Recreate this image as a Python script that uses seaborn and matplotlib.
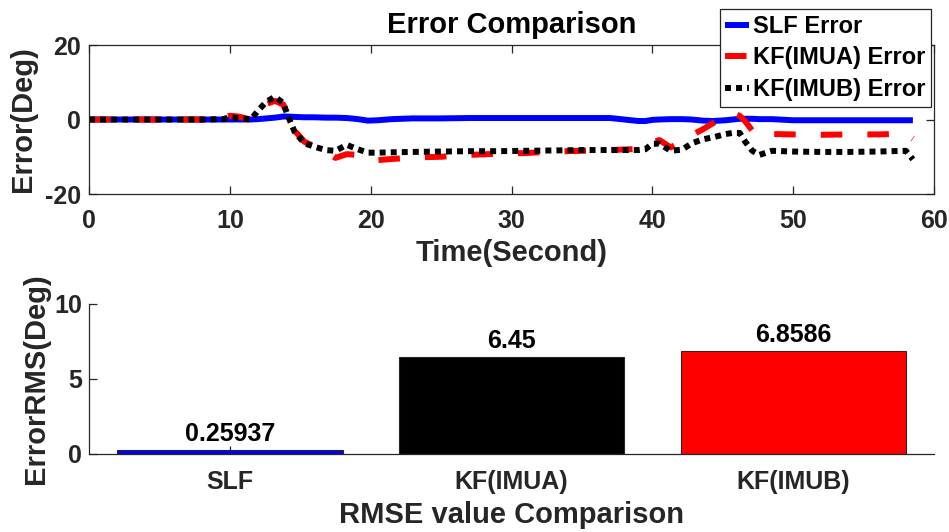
import numpy as np
import pandas as pd
import matplotlib
matplotlib.use("Agg")
import matplotlib.pyplot as plt
import seaborn as sns

# ---------------- data ----------------
time_s = [0, 2, 4, 6, 8, 9.5, 10, 10.6, 11.5, 12, 12.6, 13.2, 13.8, 14.1, 14.6,
          15.3, 16.0, 16.8, 17.5, 18.3, 19.1, 19.8, 20.5, 21.5, 23, 25, 27, 29,
          31, 33, 35, 37, 39, 39.5, 40, 40.5, 41.3, 42.1, 42.8, 43.6, 44.3, 45.2,
          45.7, 46.2, 46.6, 47.1, 47.6, 48.5, 50, 52, 54, 56, 58, 58.5]

slf_error = [0, 0, 0, 0, 0, 0, 0, 0, 0, 0.1, 0.3, 0.5, 0.8, 0.8, 0.7,
             0.6, 0.6, 0.5, 0.5, 0.4, 0.1, -0.3, -0.2, 0.1, 0.3, 0.3, 0.4, 0.4,
             0.4, 0.4, 0.4, 0.4, -0.4, -0.4, -0.1, 0.0, 0.1, 0.1, 0.0, -0.3, -0.4, -0.2,
             0.0, 0.2, 0.2, 0.2, 0.1, 0.1, -0.2, -0.2, -0.2, -0.2, -0.2, -0.2]

kf_imua_error = [0, 0, 0, 0, 0, 0.2, 1.0, 0.8, 0.0, 1.5, 4.2, 5.0, 4.0, 1.0, -3.0,
                 -6.0, -7.2, -8.5, -10.3, -9.3, -9.5, -10.6, -10.9, -10.6, -10.2, -10.0, -9.5, -9.2,
                 -9.0, -8.6, -8.4, -8.2, -7.9, -7.5, -6.2, -5.5, -7.5, -5.8, -4.2, -2.6, -1.0, 1.0,
                 1.7, 1.0, -0.5, -3.0, -4.6, -3.9, -4.0, -4.1, -4.0, -4.0, -3.8, -5.2]

kf_imub_error = [0, 0, 0, 0, 0, 0.1, 0.6, 0.4, 0.0, 2.4, 4.8, 6.1, 4.4, 1.2, -3.3,
                 -6.4, -7.3, -8.2, -8.4, -6.8, -8.0, -8.9, -8.9, -8.8, -8.7, -8.6, -8.5, -8.5,
                 -8.4, -8.3, -8.2, -8.2, -8.2, -8.0, -6.5, -6.5, -8.4, -8.1, -6.4, -5.3, -4.8, -3.9,
                 -3.6, -3.6, -6.0, -8.4, -9.5, -8.4, -8.6, -8.7, -8.7, -8.6, -8.4, -10.7]

series_names = ["SLF Error", "KF(IMUA) Error", "KF(IMUB) Error"]

rmse_methods = ["SLF", "KF(IMUA)", "KF(IMUB)"]
rmse_values = [0.25937, 6.45, 6.8586]
rmse_labels = ["0.25937", "6.45", "6.8586"]

x_ticks_top = [0, 10, 20, 30, 40, 50, 60]
y_ticks_top = [-20, 0, 20]
y_ticks_bottom = [0, 5, 10]

# ---------------- style ----------------
sns.set_theme(style="white")
plt.rcParams['font.family'] = ['Liberation Sans', 'DejaVu Sans']
plt.rcParams['font.weight'] = 'bold'
plt.rcParams['axes.labelweight'] = 'bold'
plt.rcParams['axes.titleweight'] = 'bold'
plt.rcParams['axes.unicode_minus'] = False

GRAY = '#262626'

fig = plt.figure(figsize=(9.49, 5.32), dpi=100)
ax1 = fig.add_axes([0.0938, 0.6353, 0.8904, 0.2801])
ax2 = fig.add_axes([0.0938, 0.1472, 0.8904, 0.2814])

# ---------------- top: error time series ----------------
df = pd.DataFrame({
    "Time": time_s * 3,
    "Error": slf_error + kf_imua_error + kf_imub_error,
    "Series": [series_names[0]] * len(time_s) + [series_names[1]] * len(time_s)
              + [series_names[2]] * len(time_s),
})
palette = {series_names[0]: "#0000ff", series_names[1]: "#ff0000", series_names[2]: "#000000"}
dashes = {series_names[0]: "", series_names[1]: (3.6, 4.2), series_names[2]: (1.0, 0.85)}
sns.lineplot(data=df, x="Time", y="Error", hue="Series", style="Series",
             hue_order=series_names, style_order=series_names,
             palette=palette, dashes=dashes, estimator=None, sort=False,
             lw=4.3, legend=False, ax=ax1)
for ln in ax1.get_lines():
    ln.set_dash_capstyle('butt')
    ln.set_solid_capstyle('butt')

ax1.set_xlim(0, 60)
ax1.set_ylim(-20, 20)
ax1.set_xticks(x_ticks_top)
ax1.set_yticks(y_ticks_top)
for s in ax1.spines.values():
    s.set_visible(True)
    s.set_color(GRAY)
    s.set_linewidth(0.9)
ax1.tick_params(axis='both', direction='in', length=6, width=0.9, colors=GRAY,
                labelcolor=GRAY, labelsize=18, top=True, right=True,
                bottom=True, left=True)
ax1.tick_params(axis='x', pad=11)
ax1.tick_params(axis='y', pad=6)
ax1.set_xlabel("Time(Second)", fontsize=21, fontweight='bold', color=GRAY, labelpad=4)
ax1.set_ylabel("Error(Deg)", fontsize=21, fontweight='bold', color=GRAY)
ax1.yaxis.set_label_coords(-0.062, 0.5)
ax1.set_title("Error Comparison", fontsize=21, fontweight='bold', color='black', pad=9)

leg = ax1.legend(ax1.get_lines()[:3], series_names, loc='upper right',
                 bbox_to_anchor=(931 / 949, 1 - 9 / 532), bbox_transform=fig.transFigure,
                 fontsize=17, frameon=True, fancybox=False, framealpha=1,
                 edgecolor=GRAY, borderaxespad=0, handlelength=1.0,
                 handletextpad=0.15, borderpad=0.25, labelspacing=0.36)
leg.get_frame().set_linewidth(0.9)
for t in leg.get_texts():
    t.set_fontweight('bold')
    t.set_color('black')

# ---------------- bottom: RMSE bars ----------------
sns.barplot(x=rmse_methods, y=rmse_values, hue=rmse_methods, hue_order=rmse_methods,
            order=rmse_methods, palette=["#0000ff", "#000000", "#ff0000"],
            saturation=1, legend=False, edgecolor=GRAY, linewidth=0.8,
            width=0.8, ax=ax2)
for cont, lab in zip(ax2.containers, rmse_labels):
    ax2.bar_label(cont, labels=[lab], padding=3, fontsize=18, fontweight='bold', color='black')

ax2.set_xlim(-0.5, 2.5)
ax2.set_ylim(0, 10)
ax2.set_yticks(y_ticks_bottom)
sns.despine(ax=ax2)
for s in ['left', 'bottom']:
    ax2.spines[s].set_color(GRAY)
    ax2.spines[s].set_linewidth(0.9)
ax2.tick_params(axis='both', direction='in', length=6, width=0.9, colors=GRAY,
                labelcolor=GRAY, labelsize=18, bottom=True, left=True)
ax2.tick_params(axis='x', pad=12)
ax2.tick_params(axis='y', pad=5)
ax2.set_xlabel("RMSE value Comparison", fontsize=21, fontweight='bold', color=GRAY, labelpad=5)
ax2.set_ylabel("ErrorRMS(Deg)", fontsize=21, fontweight='bold', color=GRAY)
ax2.yaxis.set_label_coords(-0.046, 0.5)

fig.savefig("out.png", dpi=100)
